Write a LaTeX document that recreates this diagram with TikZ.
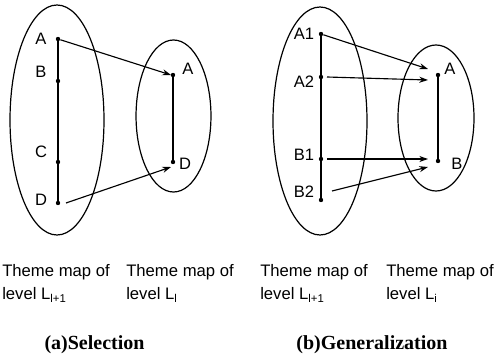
\documentclass[tikz,border=0pt]{standalone}
\usepackage{fontspec}
\setmainfont{Liberation Serif}
\setsansfont{Liberation Sans}
\usetikzlibrary{arrows.meta}
\newcommand\lsub[1]{\raisebox{-0.45ex}{\fontsize{8.5}{9}\selectfont #1}}
\tikzset{
  dot/.style={circle,fill=black,inner sep=0pt,minimum size=3.3pt},
  lab/.style={font=\sffamily\fontsize{12.4}{14}\selectfont,inner sep=0pt},
  txt/.style={font=\sffamily\fontsize{12.5}{14}\selectfont,inner sep=0pt,anchor=base west},
  figcap/.style={font=\bfseries\fontsize{15}{17}\selectfont,inner sep=0pt,anchor=base},
  map/.style={draw,line width=0.9pt},
  lnk/.style={line width=0.9pt},
  arr/.style={-{Stealth[length=6.5pt,width=4.5pt]},line width=0.85pt}
}
\begin{document}
\begin{tikzpicture}[x=0.75pt,y=-0.75pt]
\useasboundingbox (0,0) rectangle (499,356);
% ---------- (a) Selection ----------
\draw[map] (57,120) ellipse [x radius=35.25pt, y radius=86.25pt];
\draw[map] (173.5,116) ellipse [x radius=28.1pt, y radius=57pt];
\node[dot] (lA) at (58,39) {};
\node[dot] (lB) at (58,81) {};
\node[dot] (lC) at (58,162) {};
\node[dot] (lD) at (58,203) {};
\node[lab] (tlA) at (41,39) {A};
\node[lab] (tlB) at (41,72) {B};
\node[lab] (tlC) at (41,152) {C};
\node[lab] (tlD) at (41,200) {D};
\node[dot] (rA) at (173,75) {};
\node[dot] (rD) at (173,162) {};
\node[lab] (trA) at (188,69) {A};
\node[lab] (trD) at (185,164) {D};
\draw[lnk] (lA) -- (lD);
\draw[lnk] (rA) -- (rD);
\coordinate (aT1) at (171,75);
\coordinate (aS2) at (66,203);
\coordinate (aT2) at (171,167);
\draw[arr] (lA) -- (aT1);
\draw[arr] (aS2) -- (aT2);
% ---------- (b) Generalization ----------
\draw[map] (320,121) ellipse [x radius=35.25pt, y radius=85.5pt];
\draw[map] (436,118) ellipse [x radius=28.5pt, y radius=54.75pt];
\node[dot] (gA1) at (321,34) {};
\node[dot] (gA2) at (321,77) {};
\node[dot] (gB1) at (321,159) {};
\node[dot] (gB2) at (321,200) {};
\node[lab] (tgA1) at (304,34) {A1};
\node[lab] (tgA2) at (304,82) {A2};
\node[lab] (tgB1) at (304,155) {B1};
\node[lab] (tgB2) at (304,192) {B2};
\node[dot] (gA) at (438,75) {};
\node[dot] (gB) at (438,161) {};
\node[lab] (tgA) at (450,69) {A};
\node[lab] (tgB) at (457,164) {B};
\draw[lnk] (gA1) -- (gB2);
\draw[lnk] (gA) -- (gB);
\coordinate (bT1) at (428,69);
\coordinate (bS2) at (327,77);
\coordinate (bT2) at (428,80);
\coordinate (bS3) at (327,159);
\coordinate (bT3) at (428,159);
\coordinate (bS4) at (332,191);
\coordinate (bT4) at (428,167);
\draw[arr] (gA1) -- (bT1);
\draw[arr] (bS2) -- (bT2);
\draw[arr] (bS3) -- (bT3);
\draw[arr] (bS4) -- (bT4);
% ---------- captions ----------
\node[txt] (c1) at (2,276) {Theme map of};
\node[txt] (c1b) at (2,299) {level L\lsub{l+1}};
\node[txt] (c2) at (126,276) {Theme map of};
\node[txt] (c2b) at (126,299) {level L\lsub{l}};
\node[txt] (c3) at (260,276) {Theme map of};
\node[txt] (c3b) at (260,299) {level L\lsub{l+1}};
\node[txt] (c4) at (386,276) {Theme map of};
\node[txt] (c4b) at (386,299) {level L\lsub{i}};
\node[figcap] (ca) at (94.5,349) {(a)Selection};
\node[figcap] (cb) at (372,349) {(b)Generalization};
\end{tikzpicture}
\end{document}
